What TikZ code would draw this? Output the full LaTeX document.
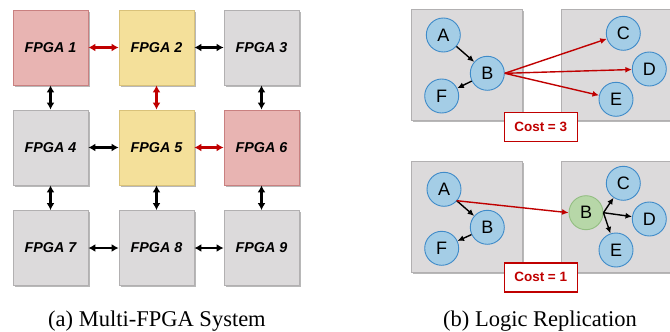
\documentclass[tikz,border=0pt]{standalone}
\usepackage{fontspec}
\setmainfont{Liberation Serif}
\setsansfont{Liberation Sans}
\usetikzlibrary{arrows.meta,shadows}
\definecolor{pinkf}{HTML}{E8B4B2}
\definecolor{pinkd}{HTML}{C98080}
\definecolor{yelf}{HTML}{F4E09A}
\definecolor{yeld}{HTML}{D9C27A}
\definecolor{grayf}{HTML}{DCDADB}
\definecolor{grayd}{HTML}{B2B0B1}
\definecolor{bluef}{HTML}{A4CDE6}
\definecolor{blued}{HTML}{3F8BC9}
\definecolor{greenf}{HTML}{B7D7A8}
\definecolor{greend}{HTML}{93BE82}
\definecolor{myred}{HTML}{C00000}
\begin{document}
\begin{tikzpicture}[x=1pt,y=-1pt,
  shd/.style={drop shadow={shadow xshift=1.6pt,shadow yshift=-1.6pt,fill=black,opacity=0.28}},
  fpga/.style={draw=grayd,fill=grayf,line width=0.8pt,minimum width=75pt,minimum height=75pt,inner sep=0pt,
    font=\sffamily\bfseries\itshape\fontsize{14.3}{14.3}\selectfont,shd},
  fpink/.style={fpga,draw=pinkd,fill=pinkf},
  fyel/.style={fpga,draw=yeld,fill=yelf},
  part/.style={draw=grayd,fill=grayf,line width=0.8pt,minimum width=110.6pt,minimum height=111.4pt,inner sep=0pt,shd},
  cell/.style={circle,draw=blued,fill=bluef,line width=0.9pt,minimum size=34pt,inner sep=0pt,
    font=\sffamily\fontsize{18}{18}\selectfont},
  gcell/.style={cell,draw=greend,fill=greenf},
  cost/.style={draw=myred,fill=white,line width=1.4pt,minimum width=73pt,minimum height=29pt,inner sep=0pt,
    text=myred,font=\sffamily\bfseries\fontsize{13.5}{13.5}\selectfont},
  link/.style={line width=2.5pt,{Latex[length=7pt,width=8pt]}-{Latex[length=7pt,width=8pt]}},
  rlink/.style={link,draw=myred,{Latex[length=7pt,width=8pt,color=myred]}-{Latex[length=7pt,width=8pt,color=myred]}},
  net/.style={line width=1.4pt,-{Latex[length=6.5pt,width=6pt]}},
  rnet/.style={net,draw=myred},
  captext/.style={font=\fontsize{22.5}{22.5}\selectfont}
]
\useasboundingbox (0,0) rectangle (670,332);
% (a) grid
\node[fpink] (f1) at (50.5,47.5) {FPGA 1};
\node[fyel]  (f2) at (156.5,47.5) {FPGA 2};
\node[fpga]  (f3) at (261.5,47.5) {FPGA 3};
\node[fpga]  (f4) at (50.5,147.5) {FPGA 4};
\node[fyel]  (f5) at (156.5,147.5) {FPGA 5};
\node[fpink] (f6) at (261.5,147.5) {FPGA 6};
\node[fpga]  (f7) at (50.5,248) {FPGA 7};
\node[fpga]  (f8) at (156.5,248) {FPGA 8};
\node[fpga]  (f9) at (261.5,248) {FPGA 9};
\draw[rlink] (f1.east) -- (f2.west);
\draw[link]  (f2.east) -- (f3.west);
\draw[link]  (f4.east) -- (f5.west);
\draw[rlink] (f5.east) -- (f6.west);
\draw[link]  (f7.east) -- (f8.west);
\draw[link]  (f8.east) -- (f9.west);
\draw[link]  (f1.south) -- (f4.north);
\draw[rlink] (f2.south) -- (f5.north);
\draw[link]  (f3.south) -- (f6.north);
\draw[link]  (f4.south) -- (f7.north);
\draw[link]  (f5.south) -- (f8.north);
\draw[link]  (f6.south) -- (f9.north);
\node[captext] (capa) at (157,321) {(a) Multi-FPGA System};
% (b) top
\node[part] (pl1) at (467,65) {};
\node[part] (pr1) at (616.3,65) {};
\node[cell] (a1) at (443.3,35) {A};
\node[cell] (b1) at (487.3,73.3) {B};
\node[cell] (fF1) at (441.7,96) {F};
\node[cell] (c1) at (623.3,33.3) {C};
\node[cell] (d1) at (649.3,69) {D};
\node[cell] (e1) at (616,99.3) {E};
\draw[net] (a1) -- (b1);
\draw[net] (b1) -- (fF1);
\draw[rnet] (b1.east) -- (c1);
\draw[rnet] (b1.east) -- (d1);
\draw[rnet] (b1.east) -- (e1);
\node[cost] (cost1) at (540.7,126.7) {Cost = 3};
% (b) bottom
\node[part] (pl2) at (467,216.7) {};
\node[part] (pr2) at (616.3,216.7) {};
\node[cell] (a2) at (444,189.3) {A};
\node[cell] (b2) at (487.3,227.3) {B};
\node[cell] (fF2) at (441.7,248.3) {F};
\node[gcell] (g2) at (586,212.7) {B};
\node[cell] (c2) at (623.3,183.3) {C};
\node[cell] (d2) at (649.3,219) {D};
\node[cell] (e2) at (616,250) {E};
\coordinate (ao) at (456.7,200.7);
\draw[net] (ao) -- (b2);
\draw[net] (b2) -- (fF2);
\draw[rnet] (ao) -- (g2.west);
\draw[net] (g2.east) -- (c2);
\draw[net] (g2.east) -- (d2);
\draw[net] (g2.east) -- (e2);
\node[cost] (cost2) at (540.7,277.3) {Cost = 1};
\node[captext] (capb) at (540,321) {(b) Logic Replication};
\end{tikzpicture}
\end{document}
